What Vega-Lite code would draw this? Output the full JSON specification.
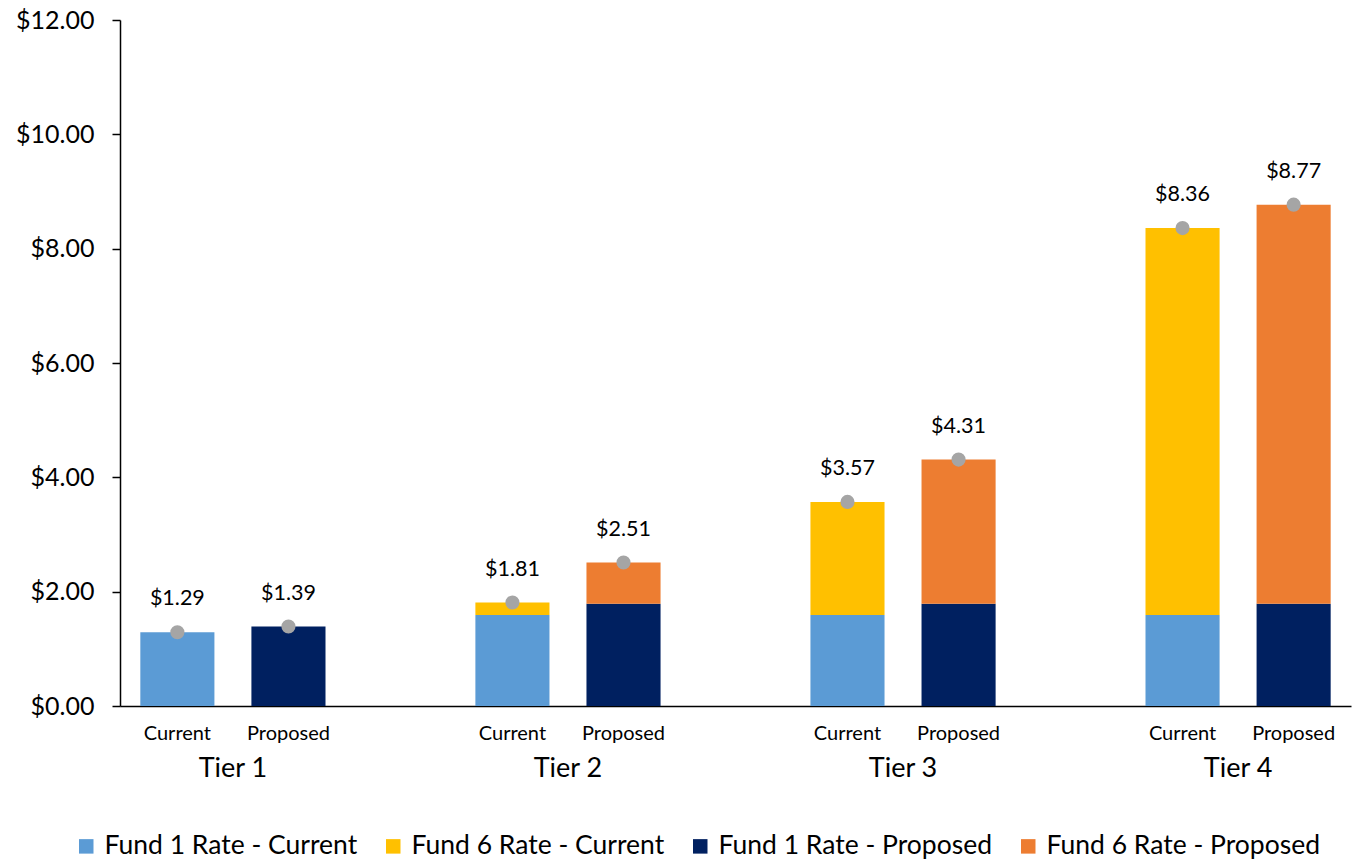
{
  "$schema": "https://vega.github.io/schema/vega-lite/v6.json",
  "width": 1231,
  "height": 686,
  "autosize": "none",
  "padding": {"left": 120, "top": 20, "right": 14, "bottom": 155},
  "background": "white",
  "config": {
    "view": {"stroke": null},
    "font": "Lato",
    "text": {"font": "Lato"}
  },
  "datasets": {
    "parts": [
      {"tier": "Tier 1", "type": "Current", "series": "Fund 1 Rate - Current", "value": 1.29},
      {"tier": "Tier 1", "type": "Proposed", "series": "Fund 1 Rate - Proposed", "value": 1.39},
      {"tier": "Tier 2", "type": "Current", "series": "Fund 1 Rate - Current", "value": 1.59},
      {"tier": "Tier 2", "type": "Current", "series": "Fund 6 Rate - Current", "value": 0.22},
      {"tier": "Tier 2", "type": "Proposed", "series": "Fund 1 Rate - Proposed", "value": 1.79},
      {"tier": "Tier 2", "type": "Proposed", "series": "Fund 6 Rate - Proposed", "value": 0.72},
      {"tier": "Tier 3", "type": "Current", "series": "Fund 1 Rate - Current", "value": 1.59},
      {"tier": "Tier 3", "type": "Current", "series": "Fund 6 Rate - Current", "value": 1.98},
      {"tier": "Tier 3", "type": "Proposed", "series": "Fund 1 Rate - Proposed", "value": 1.79},
      {"tier": "Tier 3", "type": "Proposed", "series": "Fund 6 Rate - Proposed", "value": 2.52},
      {"tier": "Tier 4", "type": "Current", "series": "Fund 1 Rate - Current", "value": 1.59},
      {"tier": "Tier 4", "type": "Current", "series": "Fund 6 Rate - Current", "value": 6.77},
      {"tier": "Tier 4", "type": "Proposed", "series": "Fund 1 Rate - Proposed", "value": 1.79},
      {"tier": "Tier 4", "type": "Proposed", "series": "Fund 6 Rate - Proposed", "value": 6.98}
    ],
    "totals": [
      {"tier": "Tier 1", "type": "Current", "total": 1.29},
      {"tier": "Tier 1", "type": "Proposed", "total": 1.39},
      {"tier": "Tier 2", "type": "Current", "total": 1.81},
      {"tier": "Tier 2", "type": "Proposed", "total": 2.51},
      {"tier": "Tier 3", "type": "Current", "total": 3.57},
      {"tier": "Tier 3", "type": "Proposed", "total": 4.31},
      {"tier": "Tier 4", "type": "Current", "total": 8.36},
      {"tier": "Tier 4", "type": "Proposed", "total": 8.77}
    ]
  },
  "encoding": {
    "x": {
      "field": "tier",
      "type": "nominal",
      "scale": {"paddingInner": 0.326, "paddingOuter": 0},
      "axis": {
        "title": null,
        "ticks": false,
        "labelAngle": 0,
        "labelPadding": 49,
        "labelFontSize": 27,
        "labelColor": "#000000",
        "labelFont": "Lato",
        "domainColor": "#000000",
        "domainWidth": 1.5
      }
    },
    "xOffset": {
      "field": "type",
      "type": "nominal",
      "scale": {"domain": ["Current", "Proposed"], "paddingInner": 0.333, "paddingOuter": 0.183}
    }
  },
  "layer": [
    {
      "data": {"name": "parts"},
      "mark": {"type": "bar"},
      "encoding": {
        "y": {
          "field": "value",
          "type": "quantitative",
          "stack": "zero",
          "scale": {"domain": [0, 12]},
          "axis": {
            "title": null,
            "values": [0, 2, 4, 6, 8, 10, 12],
            "format": "$.2f",
            "grid": false,
            "tickSize": 8,
            "tickColor": "#000000",
            "tickWidth": 1.5,
            "labelPadding": 18,
            "labelFontSize": 25,
            "labelColor": "#000000",
            "labelFont": "Lato",
            "domainColor": "#000000",
            "domainWidth": 1.5
          }
        },
        "color": {
          "field": "series",
          "type": "nominal",
          "scale": {
            "domain": ["Fund 1 Rate - Current", "Fund 6 Rate - Current", "Fund 1 Rate - Proposed", "Fund 6 Rate - Proposed"],
            "range": ["#5B9BD5", "#FFC000", "#002060", "#ED7D31"]
          },
          "legend": {
            "title": null,
            "orient": "none",
            "direction": "horizontal",
            "legendX": -47,
            "legendY": 813,
            "symbolType": "square",
            "symbolSize": 210,
            "symbolStrokeWidth": 0,
            "labelFontSize": 26.5,
            "labelFont": "Lato",
            "labelColor": "#000000",
            "labelOffset": 5,
            "columnPadding": 22,
            "labelLimit": 400
          }
        },
        "order": {"field": "series", "sort": "ascending"}
      }
    },
    {
      "data": {"name": "totals"},
      "mark": {"type": "text", "baseline": "middle", "dy": 28, "fontSize": 20, "color": "#000000", "font": "Lato"},
      "encoding": {
        "y": {"datum": 0, "type": "quantitative"},
        "text": {"field": "type"}
      }
    },
    {
      "data": {"name": "totals"},
      "mark": {"type": "circle", "size": 200, "color": "#A5A5A5", "opacity": 1},
      "encoding": {
        "y": {"field": "total", "type": "quantitative"}
      }
    },
    {
      "data": {"name": "totals"},
      "mark": {"type": "text", "baseline": "middle", "dy": -33, "fontSize": 21.5, "color": "#000000", "font": "Lato"},
      "encoding": {
        "y": {"field": "total", "type": "quantitative"},
        "text": {"field": "total", "format": "$.2f"}
      }
    }
  ]
}
